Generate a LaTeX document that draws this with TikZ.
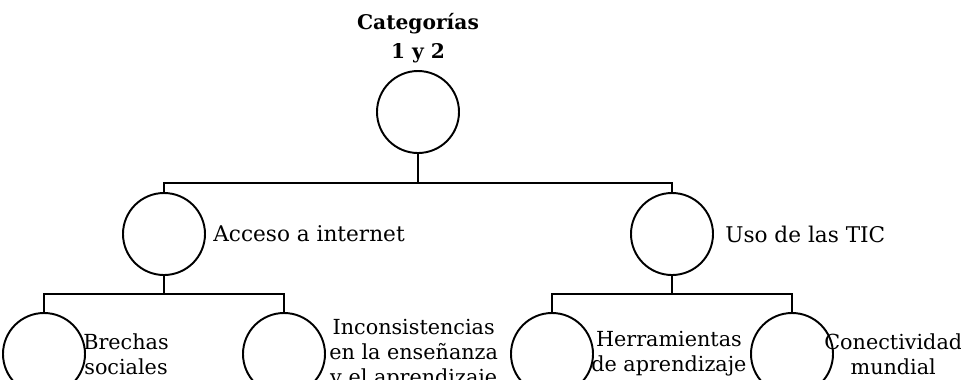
\documentclass[tikz,border=0pt]{standalone}
\usepackage{fontspec}
\setmainfont{DejaVu Serif}
\usetikzlibrary{positioning}

\begin{document}
\begin{tikzpicture}[
    every node/.style={font=\fontsize{12.3}{14.2}\selectfont, text=black},
    topic/.style={draw, circle, line width=1.1pt, minimum size=1.64cm, inner sep=0pt},
    tag/.style={inner sep=0pt, align=center},
    subtag/.style={tag, font=\fontsize{11.8}{14.2}\selectfont},
    edge from parent/.style={draw, line width=0.7pt},
    level 1/.style={sibling distance=10.16cm, level distance=2.44cm,
      edge from parent path={(\tikzparentnode.south) -- ++(0,-0.58) -| (\tikzchildnode.north)}},
    level 2/.style={sibling distance=4.8cm, level distance=2.4cm,
      edge from parent path={(\tikzparentnode.south) -- ++(0,-0.36) -| (\tikzchildnode.north)}},
    ]
    \useasboundingbox (0,0) rectangle (19.22,-7.58);

    \node[topic, label={[tag, font=\fontsize{11.5}{16.5}\selectfont\bfseries, label distance=0.14cm]above:{Categorías\\1 y 2}}] (cats) at (8.36,-2.24) {}
      child { node[topic, label={[tag, label distance=0.14cm]right:{Acceso a internet}}] (acceso) {}
          child { node[topic, label={[subtag, label distance=-0.06cm]right:{Brechas\\sociales}}] (brechas) {} }
          child { node[topic, label={[subtag, label distance=0.06cm]right:{Inconsistencias\\en la enseñanza\\y el aprendizaje}}] (incons) {} }
        }
      child { node[topic, label={[tag, label distance=0.22cm]right:{Uso de las TIC}}] (uso) {}
          child { node[topic, label={[subtag, label distance=-0.06cm]right:{Herramientas\\de aprendizaje}}] (herram) {} }
          child { node[topic, label={[subtag, label distance=-0.2cm]right:{Conectividad\\mundial}}] (conect) {} }
        };

\end{tikzpicture}
\end{document}
